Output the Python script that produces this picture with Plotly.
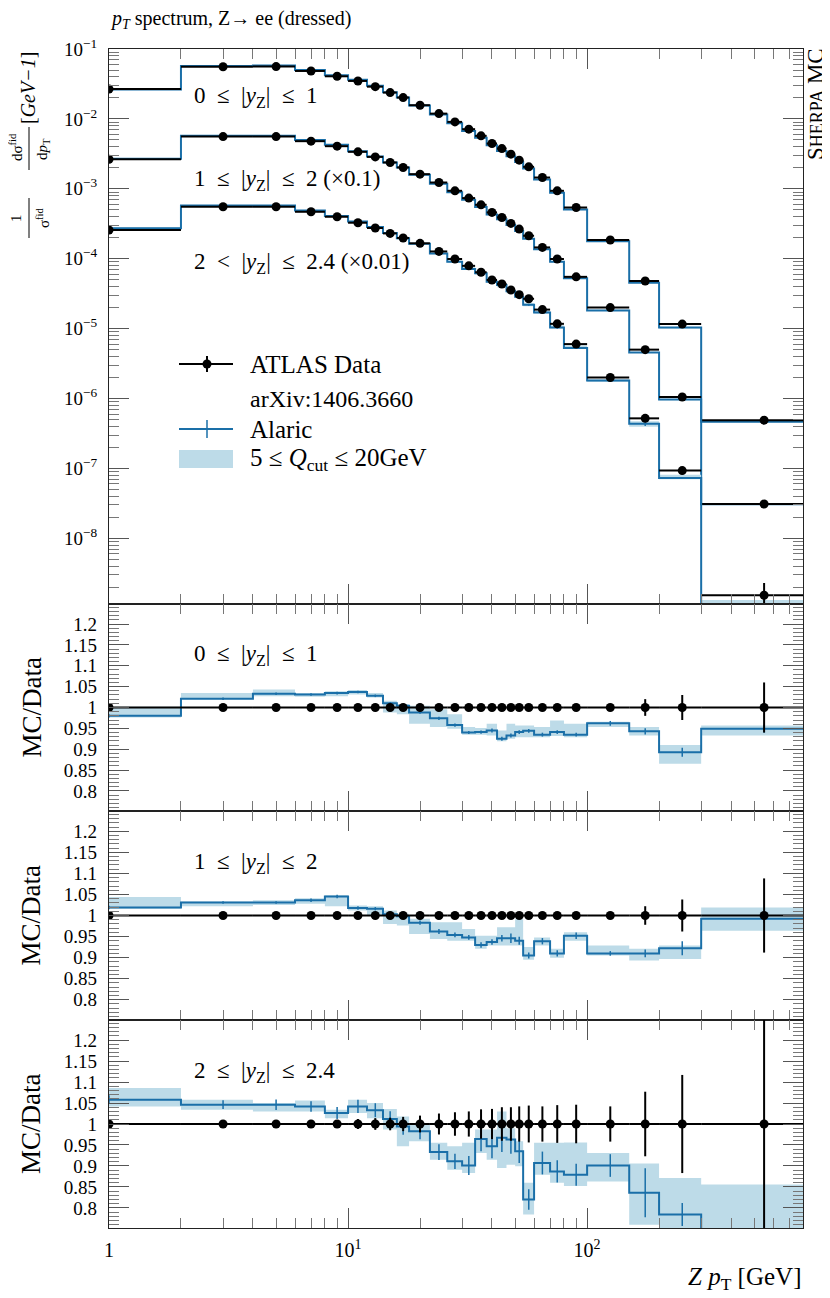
import numpy as np
import plotly.graph_objects as go

# Z pT binning [GeV]
edges = [0, 2, 4, 6, 8, 10, 12, 14, 16, 18, 22, 26, 30, 34, 38, 42, 46, 50, 54, 60, 70, 80, 100, 150, 200, 300, 800]
centers = [1, 3, 5, 7, 9, 11, 13, 15, 17, 20, 24, 28, 32, 36, 40, 44, 48, 52, 57, 65, 75, 90, 125, 175, 250, 550]

# ATLAS data, 1/sigma dsigma/dpT, unscaled, per rapidity bin
data_y0 = [0.0268, 0.0558, 0.0560, 0.0485, 0.0407, 0.0349, 0.0289, 0.0238, 0.0202, 0.0157, 0.0119, 0.00906, 0.00713,
           0.00572, 0.00444, 0.00376, 0.00313, 0.00257, 0.00206, 0.00145, 0.000936, 0.00054, 0.000185, 4.8e-5, 1.16e-5, 4.9e-7]
data_y1 = [0.0265, 0.0558, 0.0558, 0.0480, 0.0407, 0.0338, 0.0286, 0.0238, 0.0202, 0.0162, 0.0123, 0.00936, 0.00736,
           0.0059, 0.00459, 0.00389, 0.0032, 0.00265, 0.00213, 0.00145, 0.00099, 0.00055, 0.0002, 5.0e-5, 1.05e-5, 3.1e-7]
data_y2 = [0.0257, 0.0553, 0.0553, 0.0469, 0.0398, 0.0327, 0.0275, 0.0230, 0.0198, 0.0166, 0.0127, 0.0099, 0.0079,
           0.0064, 0.00496, 0.00435, 0.00356, 0.00306, 0.00267, 0.00187, 0.00117, 0.0006, 0.0002, 5.2e-5, 9.3e-6, 1.53e-7]

# relative data uncertainties
derr0 = [0.003, 0.002, 0.002, 0.002, 0.002, 0.002, 0.002, 0.002, 0.002, 0.002, 0.002, 0.002, 0.002,
         0.002, 0.002, 0.002, 0.003, 0.003, 0.003, 0.004, 0.004, 0.005, 0.007, 0.02, 0.03, 0.06]
derr1 = [0.003, 0.003, 0.003, 0.003, 0.003, 0.003, 0.003, 0.003, 0.003, 0.003, 0.003, 0.003, 0.003,
         0.003, 0.003, 0.004, 0.004, 0.004, 0.005, 0.005, 0.006, 0.006, 0.008, 0.022, 0.038, 0.088]
derr2 = [0.006, 0.005, 0.005, 0.006, 0.007, 0.012, 0.014, 0.015, 0.017, 0.02, 0.025, 0.028, 0.03,
         0.035, 0.036, 0.04, 0.04, 0.042, 0.044, 0.042, 0.045, 0.046, 0.042, 0.077, 0.117, 0.5]

# Alaric / data ratio (central) and Qcut variation band
ratio0 = [0.980, 1.021, 1.033, 1.031, 1.0345, 1.037, 1.028, 1.010, 1.004, 0.988, 0.974, 0.958, 0.940,
          0.941, 0.945, 0.925, 0.933, 0.941, 0.944, 0.935, 0.941, 0.935, 0.962, 0.943, 0.893, 0.949]
ratio1 = [1.019, 1.031, 1.031, 1.036, 1.045, 1.018, 1.016, 1.003, 0.998, 0.983, 0.962, 0.954, 0.948,
          0.930, 0.937, 0.946, 0.946, 0.940, 0.905, 0.939, 0.910, 0.952, 0.910, 0.910, 0.922, 0.992]
ratio2 = [1.058, 1.046, 1.046, 1.042, 1.026, 1.042, 1.033, 1.012, 0.994, 0.983, 0.933, 0.911, 0.901,
          0.964, 0.947, 0.967, 0.963, 0.935, 0.820, 0.907, 0.887, 0.879, 0.901, 0.836, 0.784, 0.700]

band_hi0 = [1.002, 1.035, 1.043, 1.035, 1.039, 1.042, 1.035, 1.016, 1.008, 1.004, 0.996, 0.984, 0.953,
            0.951, 0.961, 0.945, 0.961, 0.957, 0.957, 0.953, 0.969, 0.961, 0.966, 0.953, 0.910, 0.957]
band_lo0 = [0.976, 1.020, 1.027, 1.026, 1.027, 1.031, 1.024, 0.988, 0.984, 0.961, 0.953, 0.949, 0.935,
            0.935, 0.933, 0.919, 0.925, 0.929, 0.929, 0.929, 0.932, 0.929, 0.953, 0.933, 0.865, 0.933]
band_hi1 = [1.044, 1.033, 1.036, 1.041, 1.048, 1.024, 1.022, 1.012, 1.004, 0.992, 0.984, 0.984, 0.968,
            0.952, 0.952, 0.972, 0.972, 0.992, 0.925, 0.948, 0.921, 0.960, 0.929, 0.921, 0.929, 1.019]
band_lo1 = [1.016, 1.022, 1.025, 1.028, 1.022, 1.012, 1.000, 0.980, 0.976, 0.956, 0.944, 0.940, 0.940,
            0.921, 0.929, 0.929, 0.929, 0.929, 0.895, 0.929, 0.900, 0.940, 0.905, 0.893, 0.897, 0.964]
band_hi2 = [1.086, 1.058, 1.050, 1.056, 1.034, 1.058, 1.050, 1.036, 1.018, 1.002, 0.955, 0.947, 0.955,
            0.987, 0.987, 1.030, 0.990, 0.959, 0.860, 0.955, 0.955, 0.956, 0.931, 0.906, 0.871, 0.856]
band_lo2 = [1.042, 1.034, 1.030, 1.030, 1.014, 1.026, 1.014, 0.987, 0.947, 0.959, 0.915, 0.891, 0.883,
            0.931, 0.915, 0.895, 0.903, 0.899, 0.784, 0.879, 0.860, 0.852, 0.863, 0.760, 0.749, 0.600]

# MC statistical uncertainty (relative)
mcerr0 = [0.004, 0.003, 0.003, 0.003, 0.003, 0.003, 0.003, 0.003, 0.003, 0.003, 0.004, 0.004, 0.004,
          0.004, 0.005, 0.005, 0.005, 0.005, 0.005, 0.005, 0.005, 0.005, 0.006, 0.008, 0.012, 0.01]
mcerr1 = [0.004, 0.003, 0.003, 0.004, 0.004, 0.004, 0.004, 0.004, 0.005, 0.005, 0.006, 0.006, 0.006,
          0.007, 0.007, 0.008, 0.012, 0.01, 0.008, 0.008, 0.008, 0.008, 0.006, 0.01, 0.018, 0.01]
mcerr2 = [0.01, 0.01, 0.012, 0.012, 0.014, 0.015, 0.016, 0.018, 0.02, 0.02, 0.02, 0.02, 0.025,
          0.03, 0.03, 0.035, 0.035, 0.03, 0.03, 0.03, 0.03, 0.03, 0.03, 0.07, 0.035, 0.04]

scales = [1, 0.1, 0.01]
SP = "\u2002"   # en space, mimics math spacing around relations
YZ = "|<i>y</i><sub>Z</sub>|"
main_labels = ["0" + SP + "≤" + SP + YZ + SP + "≤" + SP + "1",
               "1" + SP + "≤" + SP + YZ + SP + "≤" + SP + "2 (×0.1)",
               "2" + SP + "&lt;" + SP + YZ + SP + "≤" + SP + "2.4 (×0.01)"]
ratio_labels = ["0" + SP + "≤" + SP + YZ + SP + "≤" + SP + "1",
                "1" + SP + "≤" + SP + YZ + SP + "≤" + SP + "2",
                "2" + SP + "≤" + SP + YZ + SP + "≤" + SP + "2.4"]

BLUE = "#1a6fa8"
BAND = "#bddbe8"
FONT = "Liberation Serif"

# page has an 8px body margin, so the figure is a bit smaller than the window
OFF = 8
W, H = 822, 1290
L, R, T, B = 101, 27, 41, 70
PW, PH = W - L - R, H - T - B


def px(x):
    # page pixel -> paper fraction
    return (x - OFF - L) / PW


def py(y):
    return (H - B - (y - OFF)) / PH


edges_a = np.array(edges, dtype=float)
centers_a = np.array(centers, dtype=float)
lo_edge = np.maximum(edges_a[:-1], 0.5)   # log axis cannot show 0
hi_edge = edges_a[1:]
step_x = np.concatenate([[max(edges_a[0], 0.5)], edges_a[1:]])


def step_y(v):
    v = np.asarray(v, dtype=float)
    return np.concatenate([v, [v[-1]]])


datas = [data_y0, data_y1, data_y2]
derrs = [derr0, derr1, derr2]
ratios = [ratio0, ratio1, ratio2]
bands = [(band_lo0, band_hi0), (band_lo1, band_hi1), (band_lo2, band_hi2)]
mcerrs = [mcerr0, mcerr1, mcerr2]

fig = go.Figure()


def add_set(xa, ya, data, derr, ratio, blo, bhi, mcerr):
    data = np.asarray(data)
    ratio = np.asarray(ratio)
    # Qcut band
    fig.add_trace(go.Scatter(x=step_x, y=step_y(np.asarray(blo) * data), mode="lines", line_shape="hv",
                             line=dict(width=0, color=BAND), showlegend=False, hoverinfo="skip",
                             xaxis=xa, yaxis=ya))
    fig.add_trace(go.Scatter(x=step_x, y=step_y(np.asarray(bhi) * data), mode="lines", line_shape="hv",
                             line=dict(width=0, color=BAND), fill="tonexty", fillcolor=BAND,
                             showlegend=False, hoverinfo="skip", xaxis=xa, yaxis=ya))
    mc = ratio * data
    fig.add_trace(go.Scatter(x=step_x, y=step_y(mc), mode="lines", line_shape="hv",
                             line=dict(width=2, color=BLUE), showlegend=False, xaxis=xa, yaxis=ya))
    fig.add_trace(go.Scatter(x=centers_a, y=mc, mode="markers", marker=dict(size=1, color=BLUE),
                             error_y=dict(type="data", array=np.asarray(mcerr) * mc, width=0,
                                          thickness=1.5, color=BLUE),
                             showlegend=False, xaxis=xa, yaxis=ya))
    # data
    fig.add_trace(go.Scatter(x=centers_a, y=data, mode="markers",
                             marker=dict(size=9, color="black"),
                             error_x=dict(type="data", symmetric=False, array=hi_edge - centers_a,
                                          arrayminus=centers_a - lo_edge, width=0, thickness=2, color="black"),
                             error_y=dict(type="data", array=np.asarray(derr) * data, width=0,
                                          thickness=2, color="black"),
                             showlegend=False, xaxis=xa, yaxis=ya))


# main panel
for i in range(3):
    d = np.asarray(datas[i]) * scales[i]
    add_set("x", "y", d, derrs[i], ratios[i], bands[i][0], bands[i][1], mcerrs[i])

# ratio panels
for i in range(3):
    ones = np.ones(len(centers))
    add_set("x%d" % (i + 2), "y%d" % (i + 2), ones, derrs[i], ratios[i], bands[i][0], bands[i][1], mcerrs[i])

x_major = [1, 10, 100]
x_minor = [m * 10 ** k for k in range(0, 3) for m in range(2, 10) if m * 10 ** k <= 800]

axis_common = dict(showline=True, linecolor="#222", linewidth=1.2, mirror="allticks",
                   ticks="inside", ticklen=20, tickwidth=1, tickcolor="#555",
                   showgrid=False, zeroline=False,
                   tickfont=dict(family=FONT, size=20, color="black"))


def xaxis(anchor, labels):
    return dict(axis_common, type="log", range=[0, np.log10(800)], anchor=anchor,
                tickmode="array", tickvals=x_major,
                ticktext=["1", "10<sup>1</sup>", "10<sup>2</sup>"], showticklabels=labels,
                ticklabelstandoff=4,
                minor=dict(ticks="inside", ticklen=10, tickwidth=1, tickcolor="#777", tickvals=x_minor))


r_major = [0.8, 0.85, 0.9, 0.95, 1.0, 1.05, 1.1, 1.15, 1.2]
r_text = ["0.8", "0.85", "0.9", "0.95", "1", "1.05", "1.1", "1.15", "1.2"]
r_minor = [round(0.75 + 0.01 * k, 2) for k in range(51)]


def ratio_axis(anchor, dom):
    return dict(axis_common, anchor=anchor, domain=dom, range=[0.752, 1.248], tickmode="array",
                tickvals=r_major, ticktext=r_text, ticklabelstandoff=7,
                tickfont=dict(family=FONT, size=19, color="black"),
                minor=dict(ticks="inside", ticklen=10, tickwidth=1, tickcolor="#777", tickvals=r_minor))


y_major = [10.0 ** k for k in range(-8, 0)]
y_text = ["10<sup>−%d</sup>" % (-k) for k in range(-8, 0)]
y_minor = [m * 10.0 ** k for k in range(-9, -1) for m in range(2, 10)]

d_main = [py(604), 1.0]
d_r1 = [py(811), py(604)]
d_r2 = [py(1020), py(811)]
d_r3 = [0.0, py(1020)]

fig.update_layout(
    width=W, height=H, margin=dict(l=L, r=R, t=T, b=B),
    plot_bgcolor="white", paper_bgcolor="white", showlegend=False,
    font=dict(family=FONT, color="black"),
    xaxis=xaxis("y", False),
    xaxis2=dict(xaxis("y2", False), matches="x"),
    xaxis3=dict(xaxis("y3", False), matches="x"),
    xaxis4=dict(xaxis("y4", True), matches="x"),
    yaxis=dict(axis_common, type="log", anchor="x", domain=d_main, range=[-8.94, -1],
               tickmode="array", tickvals=y_major, ticktext=y_text, ticklabelstandoff=7,
               tickfont=dict(family=FONT, size=19, color="black"),
               minor=dict(ticks="inside", ticklen=10, tickwidth=1, tickcolor="#777", tickvals=y_minor)),
    yaxis2=ratio_axis("x2", d_r1),
    yaxis3=ratio_axis("x3", d_r2),
    yaxis4=ratio_axis("x4", d_r3),
)

ann = []


def text(x, y, s, size=20, xanchor="left", yanchor="middle", angle=0):
    ann.append(dict(x=x, y=y, xref="paper", yref="paper", text=s, showarrow=False,
                    xanchor=xanchor, yanchor=yanchor, textangle=angle,
                    font=dict(family=FONT, size=size, color="black")))


# title and side label
text(px(108), py(19), "<i>p<sub>T</sub></i> spectrum, Z→ ee (dressed)", size=20)
text(px(815), py(46), "S<span style='font-size:18px'>HERPA</span> MC", size=23,
     xanchor="center", yanchor="top", angle=-90)

# panel labels
for i, yy in enumerate([97, 180, 263]):
    text(px(192), py(yy), main_labels[i], size=23)
for i, yy in enumerate([655, 863, 1072]):
    text(px(192), py(yy), ratio_labels[i], size=23)
for yy in [707.5, 915.5, 1124]:
    text(px(31), py(yy), "MC/Data", size=27, xanchor="center", angle=-90)

# main y-axis title (two stacked fractions)
text(px(16), py(218), "1", size=15, xanchor="center", angle=-90)
text(px(43), py(218), "σ<sup>fid</sup>", size=15, xanchor="center", angle=-90)
text(px(16), py(147), "dσ<sup>fid</sup>", size=15, xanchor="center", angle=-90)
text(px(43), py(149), "d<i>p</i><sub>T</sub>", size=15, xanchor="center", angle=-90)
text(px(28), py(88), "[<i>GeV−1</i>]", size=20, xanchor="center", angle=-90)

# x-axis title
text(1.0, py(1279), "<i>Z</i> <i>p</i><sub>T</sub> [GeV]", size=25, xanchor="right")

# legend
text(px(248), py(364), "ATLAS Data", size=25)
text(px(248), py(399), "arXiv:1406.3660", size=24)
text(px(248), py(429), "Alaric", size=25)
text(px(248), py(459), "5 ≤ <i>Q</i><sub>cut</sub> ≤ 20GeV", size=25)

line_k = dict(type="line", xref="paper", yref="paper")
shapes = [
    # fraction bars
    dict(line_k, x0=px(29), x1=px(29), y0=py(198), y1=py(238), line=dict(color="black", width=1)),
    dict(line_k, x0=px(29), x1=px(29), y0=py(127), y1=py(170), line=dict(color="black", width=1)),
    # legend keys
    dict(line_k, x0=px(179), x1=px(233), y0=py(364), y1=py(364), line=dict(color="black", width=2)),
    dict(line_k, x0=px(207), x1=px(207), y0=py(356), y1=py(372), line=dict(color="black", width=2)),
    dict(type="circle", xref="paper", yref="paper", x0=px(202.5), x1=px(211.5), y0=py(359.5), y1=py(368.5),
         fillcolor="black", line=dict(color="black", width=0)),
    dict(line_k, x0=px(179), x1=px(233), y0=py(429), y1=py(429), line=dict(color=BLUE, width=2)),
    dict(line_k, x0=px(207), x1=px(207), y0=py(420), y1=py(438), line=dict(color=BLUE, width=1.5)),
    dict(type="rect", xref="paper", yref="paper", x0=px(179), x1=px(233), y0=py(450), y1=py(468),
         fillcolor=BAND, line=dict(width=0)),
]

fig.update_layout(annotations=ann, shapes=shapes)

fig.write_html("out.html")
